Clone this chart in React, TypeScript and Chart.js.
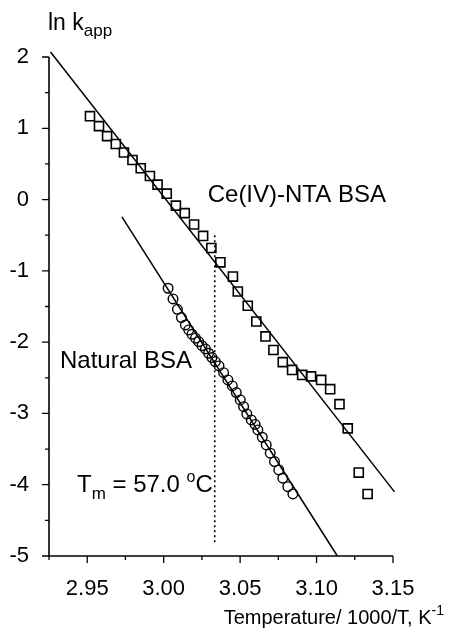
import React, { useEffect, useRef } from "react";
import { Chart, registerables } from "chart.js";

Chart.register(...registerables);

// ---- data ----
const X_MAJOR = [2.95, 3.0, 3.05, 3.1, 3.15];
const X_MINOR = [2.925, 2.975, 3.025, 3.075, 3.125];
const Y_MAJOR = [-5, -4, -3, -2, -1, 0, 1, 2];
const Y_MINOR = [-4.5, -3.5, -2.5, -1.5, -0.5, 0.5, 1.5];

// Ce(IV)-NTA BSA (squares)
const CE_X = [2.9518, 2.9577, 2.963, 2.9687, 2.974, 2.9796, 2.985, 2.991, 2.996, 3.002, 3.008, 3.0138, 3.0199, 3.0258, 3.0312, 3.0371, 3.0453, 3.0485, 3.055, 3.0606, 3.0666, 3.0718, 3.0779, 3.084, 3.0906, 3.0964, 3.103, 3.1089, 3.115, 3.1204, 3.1276, 3.1334];
const CE_Y = [1.17, 1.03, 0.89, 0.78, 0.66, 0.555, 0.44, 0.33, 0.21, 0.083, -0.085, -0.19, -0.35, -0.51, -0.68, -0.88, -1.08, -1.29, -1.49, -1.71, -1.92, -2.11, -2.28, -2.39, -2.46, -2.48, -2.53, -2.66, -2.87, -3.21, -3.83, -4.13];

// Natural BSA (circles)
const NAT_X = [3.0029, 3.0061, 3.009, 3.0116, 3.0142, 3.0164, 3.0185, 3.0208, 3.0229, 3.0251, 3.0273, 3.0294, 3.0316, 3.0338, 3.0362, 3.0392, 3.042, 3.0449, 3.0475, 3.0501, 3.0523, 3.0544, 3.0573, 3.0598, 3.0616, 3.0645, 3.0671, 3.0697, 3.0725, 3.0753, 3.0779, 3.0812, 3.0845];
const NAT_Y = [-1.244, -1.394, -1.539, -1.656, -1.759, -1.829, -1.889, -1.945, -1.993, -2.049, -2.095, -2.156, -2.217, -2.274, -2.334, -2.428, -2.53, -2.614, -2.708, -2.811, -2.905, -3.007, -3.091, -3.154, -3.231, -3.334, -3.442, -3.558, -3.676, -3.792, -3.909, -4.027, -4.129];

// fit lines (endpoints)
const CE_FIT_X = [2.926, 3.151];
const CE_FIT_Y = [2.07, -4.1];
const NAT_FIT_X = [2.9727, 3.1136];
const NAT_FIT_Y = [-0.244, -5.0];
// Tm marker
const TM_X = [3.0334, 3.0334];
const TM_Y = [-0.5, -4.84];

const FONT = "'Liberation Sans', Arial, Helvetica, sans-serif";

const zip = (xs: number[], ys: number[]) => xs.map((x, i) => ({ x, y: ys[i] }));

export default function App() {
  const ref = useRef<HTMLCanvasElement | null>(null);

  useEffect(() => {
    if (!ref.current) return;

    const axesPlugin = {
      id: "axesPlugin",
      afterDraw(chart: any) {
        const ctx = chart.ctx;
        const xs = chart.scales.x;
        const ys = chart.scales.y;
        const { left, right, top, bottom } = chart.chartArea;
        ctx.save();
        ctx.strokeStyle = "#000";
        ctx.fillStyle = "#000";
        ctx.lineWidth = 1.6;
        ctx.beginPath();
        ctx.moveTo(left, top);
        ctx.lineTo(left, bottom);
        ctx.lineTo(right, bottom);
        ctx.stroke();
        ctx.lineWidth = 1.3;
        ctx.beginPath();
        X_MAJOR.forEach((v) => {
          const p = xs.getPixelForValue(v);
          ctx.moveTo(p, bottom);
          ctx.lineTo(p, bottom + 7);
        });
        X_MINOR.forEach((v) => {
          const p = xs.getPixelForValue(v);
          ctx.moveTo(p, bottom);
          ctx.lineTo(p, bottom + 4);
        });
        Y_MAJOR.forEach((v) => {
          const p = ys.getPixelForValue(v);
          ctx.moveTo(left, p);
          ctx.lineTo(left - 7, p);
        });
        Y_MINOR.forEach((v) => {
          const p = ys.getPixelForValue(v);
          ctx.moveTo(left, p);
          ctx.lineTo(left - 4, p);
        });
        ctx.stroke();

        ctx.textBaseline = "alphabetic";
        ctx.textAlign = "left";
        // y-axis title: ln k_app
        let x = left - 1;
        let y = top - 27;
        ctx.font = `23px ${FONT}`;
        ctx.fillText("ln k", x, y);
        x += ctx.measureText("ln k").width;
        ctx.font = `17px ${FONT}`;
        ctx.fillText("app", x, y + 6);

        // x-axis title
        ctx.font = `20px ${FONT}`;
        const main = "Temperature/ 1000/T, K";
        const wMain = ctx.measureText(main).width;
        ctx.font = `14px ${FONT}`;
        const wSup = ctx.measureText("-1").width;
        const endX = right + 51;
        const startX = endX - wMain - wSup;
        const by = bottom + 68;
        ctx.font = `20px ${FONT}`;
        ctx.fillText(main, startX, by);
        ctx.font = `14px ${FONT}`;
        ctx.fillText("-1", startX + wMain, by - 9);

        // annotations
        ctx.font = `24px ${FONT}`;
        ctx.fillText("Ce(IV)-NTA BSA", xs.getPixelForValue(3.0288), ys.getPixelForValue(-0.03));
        ctx.fillText("Natural BSA", xs.getPixelForValue(2.9322), ys.getPixelForValue(-2.362));

        x = xs.getPixelForValue(2.9433);
        y = ys.getPixelForValue(-4.1);
        ctx.font = `24px ${FONT}`;
        ctx.fillText("T", x, y);
        x += ctx.measureText("T").width;
        ctx.font = `17px ${FONT}`;
        ctx.fillText("m", x, y + 7);
        x += ctx.measureText("m").width;
        ctx.font = `24px ${FONT}`;
        ctx.fillText(" = 57.0 ", x, y);
        x += ctx.measureText(" = 57.0 ").width;
        ctx.font = `16px ${FONT}`;
        ctx.fillText("o", x, y - 10);
        x += ctx.measureText("o").width;
        ctx.font = `24px ${FONT}`;
        ctx.fillText("C", x, y);
        ctx.restore();
      },
    };

    const lineDs = (data: any[], dash: number[] = []) => ({
      type: "line" as const,
      data,
      borderColor: "#000",
      borderWidth: dash.length ? 1.6 : 1.5,
      borderDash: dash,
      pointRadius: 0,
      fill: false,
      showLine: true,
      clip: false as any,
      tension: 0,
    });

    const chart = new Chart(ref.current, {
      type: "scatter",
      data: {
        datasets: [
          lineDs(zip(CE_FIT_X, CE_FIT_Y)),
          lineDs(zip(NAT_FIT_X, NAT_FIT_Y)),
          lineDs(zip(TM_X, TM_Y), [2, 3]),
          {
            type: "scatter",
            data: zip(CE_X, CE_Y),
            pointStyle: "rect",
            pointRadius: 6.4,
            borderColor: "#000",
            borderWidth: 1.6,
            backgroundColor: "rgba(0,0,0,0)",
            clip: false as any,
          },
          {
            type: "scatter",
            data: zip(NAT_X, NAT_Y),
            pointStyle: "circle",
            pointRadius: 4.8,
            borderColor: "#000",
            borderWidth: 1.4,
            backgroundColor: "rgba(0,0,0,0)",
          },
        ] as any,
      },
      options: {
        animation: false,
        responsive: false,
        devicePixelRatio: 1,
        layout: { padding: { top: 57, right: 56, left: 0, bottom: 0 } },
        plugins: {
          legend: { display: false },
          tooltip: { enabled: false },
          title: { display: false },
        },
        scales: {
          x: {
            type: "linear",
            min: 2.925,
            max: 3.15,
            grid: { display: false },
            border: { display: false },
            afterBuildTicks: (s: any) => {
              s.ticks = X_MAJOR.map((v) => ({ value: v }));
            },
            afterFit: (s: any) => {
              s.height = 83;
            },
            ticks: {
              autoSkip: false,
              maxRotation: 0,
              color: "#000",
              padding: 12,
              font: { family: FONT, size: 22 },
              callback: (v: any) => Number(v).toFixed(2),
            },
          },
          y: {
            type: "linear",
            min: -5,
            max: 2,
            grid: { display: false },
            border: { display: false },
            afterBuildTicks: (s: any) => {
              s.ticks = Y_MAJOR.map((v) => ({ value: v }));
            },
            afterFit: (s: any) => {
              s.width = 49;
            },
            ticks: {
              autoSkip: false,
              color: "#000",
              padding: 12,
              font: { family: FONT, size: 22 },
              callback: (v: any) => String(v),
            },
          },
        },
      } as any,
      plugins: [axesPlugin],
    });
    return () => chart.destroy();
  }, []);

  return (
    <div style={{ position: "absolute", left: 0, top: 0, width: 449, height: 639, background: "#fff" }}>
      <canvas ref={ref} width={449} height={639} style={{ display: "block" }} />
    </div>
  );
}
